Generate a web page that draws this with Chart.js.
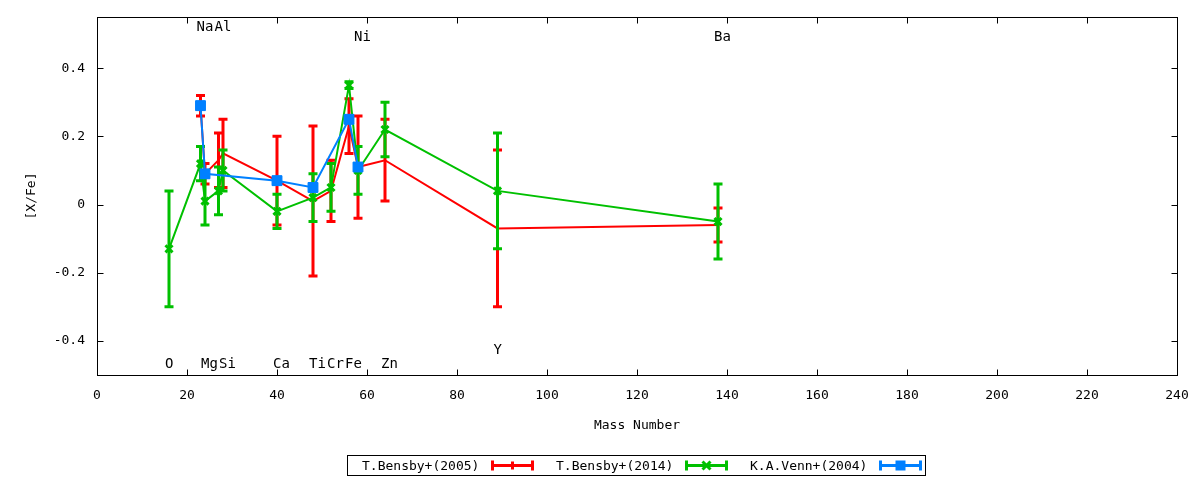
<!DOCTYPE html>
<html>
<head>
<meta charset="utf-8">
<script src="https://cdn.jsdelivr.net/npm/chart.js@4"></script>
<style>
  html, body { margin: 0; padding: 0; background: #fff; }
  canvas { display: block; }
</style>
</head>
<body>
<canvas id="abundChart" width="1200" height="480"></canvas>
<script>
// Element labels drawn inside the plot (mass number, [X/Fe] height of label)
const elemNames = ['O', 'Na', 'Mg', 'Al', 'Si', 'Ca', 'Ti', 'Cr', 'Fe', 'Ni', 'Zn', 'Y', 'Ba'];
const elemMass  = [16, 23, 24, 27, 28, 40, 48, 52, 56, 58, 64, 89, 138];
const elemLabelY = [-0.468, 0.52, -0.468, 0.52, -0.468, -0.468, -0.468, -0.468, -0.468, 0.49, -0.468, -0.427, 0.49];

// T.Bensby+(2005)
const bensby05Mass = [23, 24, 27, 28, 40, 48, 52, 56, 58, 64, 89, 138];
const bensby05Val  = [0.29, 0.09, 0.13, 0.15, 0.07, 0.01, 0.04, 0.23, 0.11, 0.13, -0.07, -0.06];
const bensby05Err  = [0.03, 0.03, 0.08, 0.10, 0.13, 0.22, 0.09, 0.08, 0.15, 0.12, 0.23, 0.05];

// T.Bensby+(2014)
const bensby14Mass = [16, 23, 24, 27, 28, 40, 48, 52, 56, 58, 64, 89, 138];
const bensby14Val  = [-0.13, 0.12, 0.01, 0.04, 0.10, -0.02, 0.02, 0.05, 0.35, 0.10, 0.22, 0.04, -0.05];
const bensby14Err  = [0.17, 0.05, 0.07, 0.07, 0.06, 0.05, 0.07, 0.07, 0.01, 0.07, 0.08, 0.17, 0.11];

// K.A.Venn+(2004)
const venn04Mass = [23, 24, 40, 48, 56, 58];
const venn04Val  = [0.29, 0.09, 0.07, 0.05, 0.25, 0.11];
const venn04Err  = [0.01, 0.01, 0.01, 0.01, 0.01, 0.01];

const xTicks = [0, 20, 40, 60, 80, 100, 120, 140, 160, 180, 200, 220, 240];
const yTicks = [-0.4, -0.2, 0, 0.2, 0.4];

const FONT = '"DejaVu Sans Mono", monospace';
Chart.defaults.font.family = FONT;
Chart.defaults.font.size = 13;
Chart.defaults.color = '#000';

function toPoints(xs, ys) {
    return xs.map((x, i) => ({ x: x, y: ys[i] }));
}

// vertical error bars with caps, drawn under each dataset's own line
const errorBars = {
    id: 'errorBars',
    beforeDatasetDraw(chart, args) {
        const ds = chart.data.datasets[args.index];
        if (!ds.errors) return;
        const { ctx, scales: { x, y } } = chart;
        ctx.save();
        ctx.strokeStyle = ds.borderColor;
        ctx.lineWidth = 3;
        ctx.lineCap = 'butt';
        ds.data.forEach((p, i) => {
            const px = x.getPixelForValue(p.x);
            const top = y.getPixelForValue(p.y + ds.errors[i]);
            const bot = y.getPixelForValue(p.y - ds.errors[i]);
            ctx.beginPath();
            ctx.moveTo(px, top - 1.5);
            ctx.lineTo(px, bot + 1.5);
            ctx.moveTo(px - 4.5, top);
            ctx.lineTo(px + 4.5, top);
            ctx.moveTo(px - 4.5, bot);
            ctx.lineTo(px + 4.5, bot);
            ctx.stroke();
        });
        ctx.restore();
    }
};

// element names inside the plot
const elementLabels = {
    id: 'elementLabels',
    afterDatasetsDraw(chart) {
        const { ctx, scales: { x, y } } = chart;
        ctx.save();
        ctx.font = '14px ' + FONT;
        ctx.fillStyle = '#000';
        ctx.textAlign = 'left';
        ctx.textBaseline = 'middle';
        elemNames.forEach((name, i) => {
            ctx.fillText(name, x.getPixelForValue(elemMass[i]) - 4, y.getPixelForValue(elemLabelY[i]));
        });
        ctx.restore();
    }
};

// gnuplot style frame with inward mirrored ticks
const frame = {
    id: 'frame',
    afterDraw(chart) {
        const { ctx, chartArea: a, scales: { x, y } } = chart;
        const L = Math.round(a.left) + 0.5, R = Math.round(a.right) + 0.5;
        const T = Math.round(a.top) + 0.5, B = Math.round(a.bottom) + 0.5;
        ctx.save();
        ctx.strokeStyle = '#000';
        ctx.lineWidth = 1;
        ctx.strokeRect(L, T, R - L, B - T);
        ctx.beginPath();
        xTicks.forEach(v => {
            const px = Math.round(x.getPixelForValue(v)) + 0.5;
            ctx.moveTo(px, B); ctx.lineTo(px, B - 6);
            ctx.moveTo(px, T); ctx.lineTo(px, T + 6);
        });
        yTicks.forEach(v => {
            const py = Math.round(y.getPixelForValue(v)) + 0.5;
            ctx.moveTo(L, py); ctx.lineTo(L + 6, py);
            ctx.moveTo(R, py); ctx.lineTo(R - 6, py);
        });
        ctx.stroke();

        // legend box
        const bx = 347.5, by = 455.5, bw = 578, bh = 20;
        ctx.strokeRect(bx, by, bw, bh);
        const cy = by + bh / 2;
        ctx.font = '13px ' + FONT;
        ctx.textAlign = 'left';
        ctx.textBaseline = 'middle';
        chart.data.datasets.forEach((ds, i) => {
            const tx = 362 + 194 * i;
            ctx.fillStyle = '#000';
            ctx.fillText(ds.label, tx, cy + 1);
            const s0 = tx + 129, s1 = tx + 172, mid = (s0 + s1) / 2;
            ctx.strokeStyle = ds.borderColor;
            ctx.fillStyle = ds.borderColor;
            ctx.lineWidth = 3;
            ctx.beginPath();
            ctx.moveTo(s0, cy); ctx.lineTo(s1, cy);
            ctx.moveTo(s0 + 1.5, cy - 5); ctx.lineTo(s0 + 1.5, cy + 5);
            ctx.moveTo(s1 - 1.5, cy - 5); ctx.lineTo(s1 - 1.5, cy + 5);
            ctx.stroke();
            if (ds.pointStyle === 'rect') {
                ctx.fillRect(mid - 5, cy - 5, 10, 10);
            } else if (ds.pointStyle === 'crossRot') {
                ctx.beginPath();
                ctx.moveTo(mid - 4, cy - 4); ctx.lineTo(mid + 4, cy + 4);
                ctx.moveTo(mid - 4, cy + 4); ctx.lineTo(mid + 4, cy - 4);
                ctx.stroke();
            } else {
                ctx.beginPath();
                ctx.moveTo(mid, cy - 4); ctx.lineTo(mid, cy + 4);
                ctx.stroke();
            }
        });
        ctx.restore();
    }
};

const ctx = document.getElementById('abundChart').getContext('2d');
new Chart(ctx, {
    type: 'line',
    data: {
        datasets: [
            {
                label: 'T.Bensby+(2005)',
                data: toPoints(bensby05Mass, bensby05Val),
                errors: bensby05Err,
                borderColor: '#ff0000',
                backgroundColor: '#ff0000',
                borderWidth: 2,
                pointRadius: 0,
                pointStyle: 'line',
                order: 3
            },
            {
                label: 'T.Bensby+(2014)',
                data: toPoints(bensby14Mass, bensby14Val),
                errors: bensby14Err,
                borderColor: '#00c000',
                backgroundColor: '#00c000',
                borderWidth: 2,
                pointStyle: 'crossRot',
                pointRadius: 5,
                pointBorderWidth: 3,
                order: 2
            },
            {
                label: 'K.A.Venn+(2004)',
                data: toPoints(venn04Mass, venn04Val),
                errors: venn04Err,
                borderColor: '#0080ff',
                backgroundColor: '#0080ff',
                borderWidth: 2,
                pointStyle: 'rect',
                pointRadius: 7,
                pointBorderWidth: 1,
                order: 1
            }
        ]
    },
    options: {
        responsive: false,
        animation: false,
        devicePixelRatio: 1,
        layout: { padding: { top: 17, right: 23, left: 0, bottom: 0 } },
        plugins: {
            legend: { display: false },
            tooltip: { enabled: false }
        },
        elements: { line: { tension: 0 } },
        scales: {
            x: {
                type: 'linear',
                min: 0,
                max: 240,
                afterBuildTicks: s => { s.ticks = xTicks.map(v => ({ value: v })); },
                ticks: { padding: 13, maxRotation: 0, autoSkip: false, callback: v => String(v) },
                grid: { display: false, drawTicks: false },
                border: { display: false },
                title: { display: true, text: 'Mass Number', padding: { top: 0, bottom: 47 } },
                afterFit: s => { s.height = 105; s.paddingLeft = 0; s.paddingRight = 0; }
            },
            y: {
                type: 'linear',
                min: -0.5,
                max: 0.55,
                afterBuildTicks: s => { s.ticks = yTicks.map(v => ({ value: v })); },
                ticks: {
                    padding: 12,
                    autoSkip: false,
                    callback: v => (Math.abs(v) < 1e-9 ? '0' : String(Math.round(v * 10) / 10))
                },
                grid: { display: false, drawTicks: false },
                border: { display: false },
                title: { display: true, text: '[X/Fe]', padding: { top: 24, bottom: 0 } },
                afterFit: s => { s.width = 97; s.paddingTop = 0; s.paddingBottom = 0; }
            }
        }
    },
    plugins: [errorBars, elementLabels, frame]
});
</script>
</body>
</html>
